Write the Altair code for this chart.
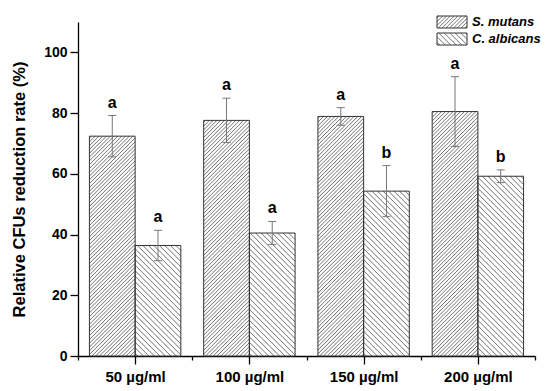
import json
import altair as alt
import pandas as pd

# ---------------- data ----------------
categories = ["50 µg/ml", "100 µg/ml", "150 µg/ml", "200 µg/ml"]
series = ["S. mutans", "C. albicans"]
s_mutans = [72.4, 77.6, 78.9, 80.5]
s_mutans_err = [6.8, 7.3, 2.9, 11.5]
c_albicans = [36.4, 40.5, 54.3, 59.2]
c_albicans_err = [5.0, 3.8, 8.4, 2.1]
s_letters = ["a", "a", "a", "a"]
c_letters = ["a", "a", "b", "b"]

# ---------------- layout constants ----------------
W, H = 457, 334
YMAX = 110
NG = len(categories)
PX_X = W / NG          # pixels per x-unit
PX_Y = H / YMAX        # pixels per y-unit
FONT = "Liberation Sans"
HATCH = {"S. mutans": ("/", 3.8), "C. albicans": ("\\", 5.5)}

rows = []
for i, cat in enumerate(categories):
    for j, (name, vals, errs, lets) in enumerate([
        ("S. mutans", s_mutans, s_mutans_err, s_letters),
        ("C. albicans", c_albicans, c_albicans_err, c_letters),
    ]):
        x0 = i + 0.1 + 0.4 * j
        x1 = x0 + 0.4
        rows.append(dict(cat=cat, series=name, x0=x0, x1=x1, xc=(x0 + x1) / 2,
                         y0=0.0, y1=vals[i], lo=vals[i] - errs[i], hi=vals[i] + errs[i],
                         letter=lets[i],
                         cl=(x0 + x1) / 2 - 4 / PX_X, cr=(x0 + x1) / 2 + 4 / PX_X))
bars = pd.DataFrame(rows)


def hatch(x0, x1, y0, y1, kind, step):
    """Hatch segments (45 deg on screen) clipped to a rectangle given in data units."""
    Wp = (x1 - x0) * PX_X
    Hp = (y1 - y0) * PX_Y
    segs = []
    if kind == "/":
        c = -Hp + step / 2
        while c < Wp:
            ua, ub = max(0.0, c), min(Wp, Hp + c)
            if ub > ua:
                segs.append((x0 + ua / PX_X, y0 + (ua - c) / PX_Y,
                             x0 + ub / PX_X, y0 + (ub - c) / PX_Y))
            c += step
    else:
        c = step / 2
        while c < Wp + Hp:
            ua, ub = max(0.0, c - Hp), min(Wp, c)
            if ub > ua:
                segs.append((x0 + ua / PX_X, y0 + (c - ua) / PX_Y,
                             x0 + ub / PX_X, y0 + (c - ub) / PX_Y))
            c += step
    return segs


# legend boxes (pixel geometry relative to plot area -> data units)
def px_to_x(px):
    return px / PX_X


def px_to_y(py):
    return YMAX - py / PX_Y


leg_rows = []
for k, name in enumerate(series):
    top = -6 + 17 * k
    leg_rows.append(dict(series=name, x0=px_to_x(359), x1=px_to_x(389),
                         y1=px_to_y(top), y0=px_to_y(top + 12),
                         tx=px_to_x(394), ty=px_to_y(top + 6)))
legend = pd.DataFrame(leg_rows)

hrows = []
for df in (bars, legend):
    for r in df.itertuples():
        kind, step = HATCH[r.series]
        for (a, b, c, d) in hatch(r.x0, r.x1, r.y0, r.y1, kind, step):
            hrows.append(dict(hx=a, hy=b, hx2=c, hy2=d))
hatch_df = pd.DataFrame(hrows)

# ---------------- scales / axes ----------------
cat_js = json.dumps(categories, ensure_ascii=False)
x_scale = alt.Scale(domain=[0, NG], nice=False, zero=False)
y_scale = alt.Scale(domain=[0, YMAX], nice=False)

x_axis = alt.Axis(
    values=[k * 0.5 for k in range(2 * NG + 1)],
    labelExpr=f"datum.value % 1 == 0.5 ? {cat_js}[floor(datum.value)] : ''",
    tickSize={"condition": {"test": "datum.value % 1 == 0.5", "value": 8}, "value": 4},
    labelPadding=5, labelOverlap=False, labelFlush=False, grid=False,
    labelFont=FONT, labelFontSize=15, labelFontWeight="bold", labelColor="black",
    domainColor="black", domainWidth=1.3, tickColor="black", tickWidth=1.3, title=None,
)
y_axis = alt.Axis(
    values=list(range(0, YMAX + 1, 10)),
    labelExpr="datum.value % 20 == 0 ? datum.label : ''",
    tickSize={"condition": {"test": "datum.value % 20 == 0", "value": 8}, "value": 4},
    labelPadding=3, labelOverlap=False, grid=False,
    labelFont=FONT, labelFontSize=14, labelFontWeight="bold", labelColor="black",
    domainColor="black", domainWidth=1.3, tickColor="black", tickWidth=1.3,
    title="Relative CFUs reduction rate (%)", titleFont=FONT, titleFontSize=16.5,
    titleFontWeight="bold", titleColor="black", titlePadding=16,
)

base = alt.Chart(bars)

bar_layer = base.mark_rect(fill="white", stroke="none").encode(
    x=alt.X("x0:Q", scale=x_scale, axis=x_axis),
    x2="x1:Q",
    y=alt.Y("y0:Q", scale=y_scale, axis=y_axis),
    y2="y1:Q",
)

hatch_layer = alt.Chart(hatch_df).mark_rule(color="#4d4d4d", strokeWidth=0.8).encode(
    x="hx:Q", x2="hx2:Q", y="hy:Q", y2="hy2:Q"
)

outline = base.mark_rect(fill=None, stroke="#333333", strokeWidth=1).encode(
    x="x0:Q", x2="x1:Q", y="y0:Q", y2="y1:Q"
)

err = base.mark_rule(color="#777777", strokeWidth=1).encode(
    x="xc:Q", y="lo:Q", y2="hi:Q"
)
cap_hi = base.mark_rule(color="#777777", strokeWidth=1).encode(
    x="cl:Q", x2="cr:Q", y="hi:Q"
)
cap_lo = base.mark_rule(color="#777777", strokeWidth=1).encode(
    x="cl:Q", x2="cr:Q", y="lo:Q"
)
letters = base.mark_text(font=FONT, fontSize=16, fontWeight="bold", color="black",
                         baseline="alphabetic", dy=-8).encode(
    x="xc:Q", y="hi:Q", text="letter:N"
)

leg = alt.Chart(legend)
leg_box_bg = leg.mark_rect(fill="white", stroke="none").encode(
    x="x0:Q", x2="x1:Q", y="y0:Q", y2="y1:Q"
)
leg_box = leg.mark_rect(fill=None, stroke="#333333", strokeWidth=1).encode(
    x="x0:Q", x2="x1:Q", y="y0:Q", y2="y1:Q"
)
leg_text = leg.mark_text(font=FONT, fontSize=13, fontWeight="bold", fontStyle="italic",
                         color="black", align="left", baseline="middle").encode(
    x="tx:Q", y="ty:Q", text="series:N"
)

chart = alt.layer(
    bar_layer, leg_box_bg, hatch_layer, outline, leg_box, err, cap_hi, cap_lo, letters, leg_text
).properties(
    width=W, height=H,
    autosize=alt.AutoSizeParams(type="none"),
    padding={"left": 70, "top": 14, "right": 7, "bottom": 34},
    background="white",
).configure_view(stroke=None)

chart.save("out.html", embed_options={"renderer": "svg", "actions": False})
